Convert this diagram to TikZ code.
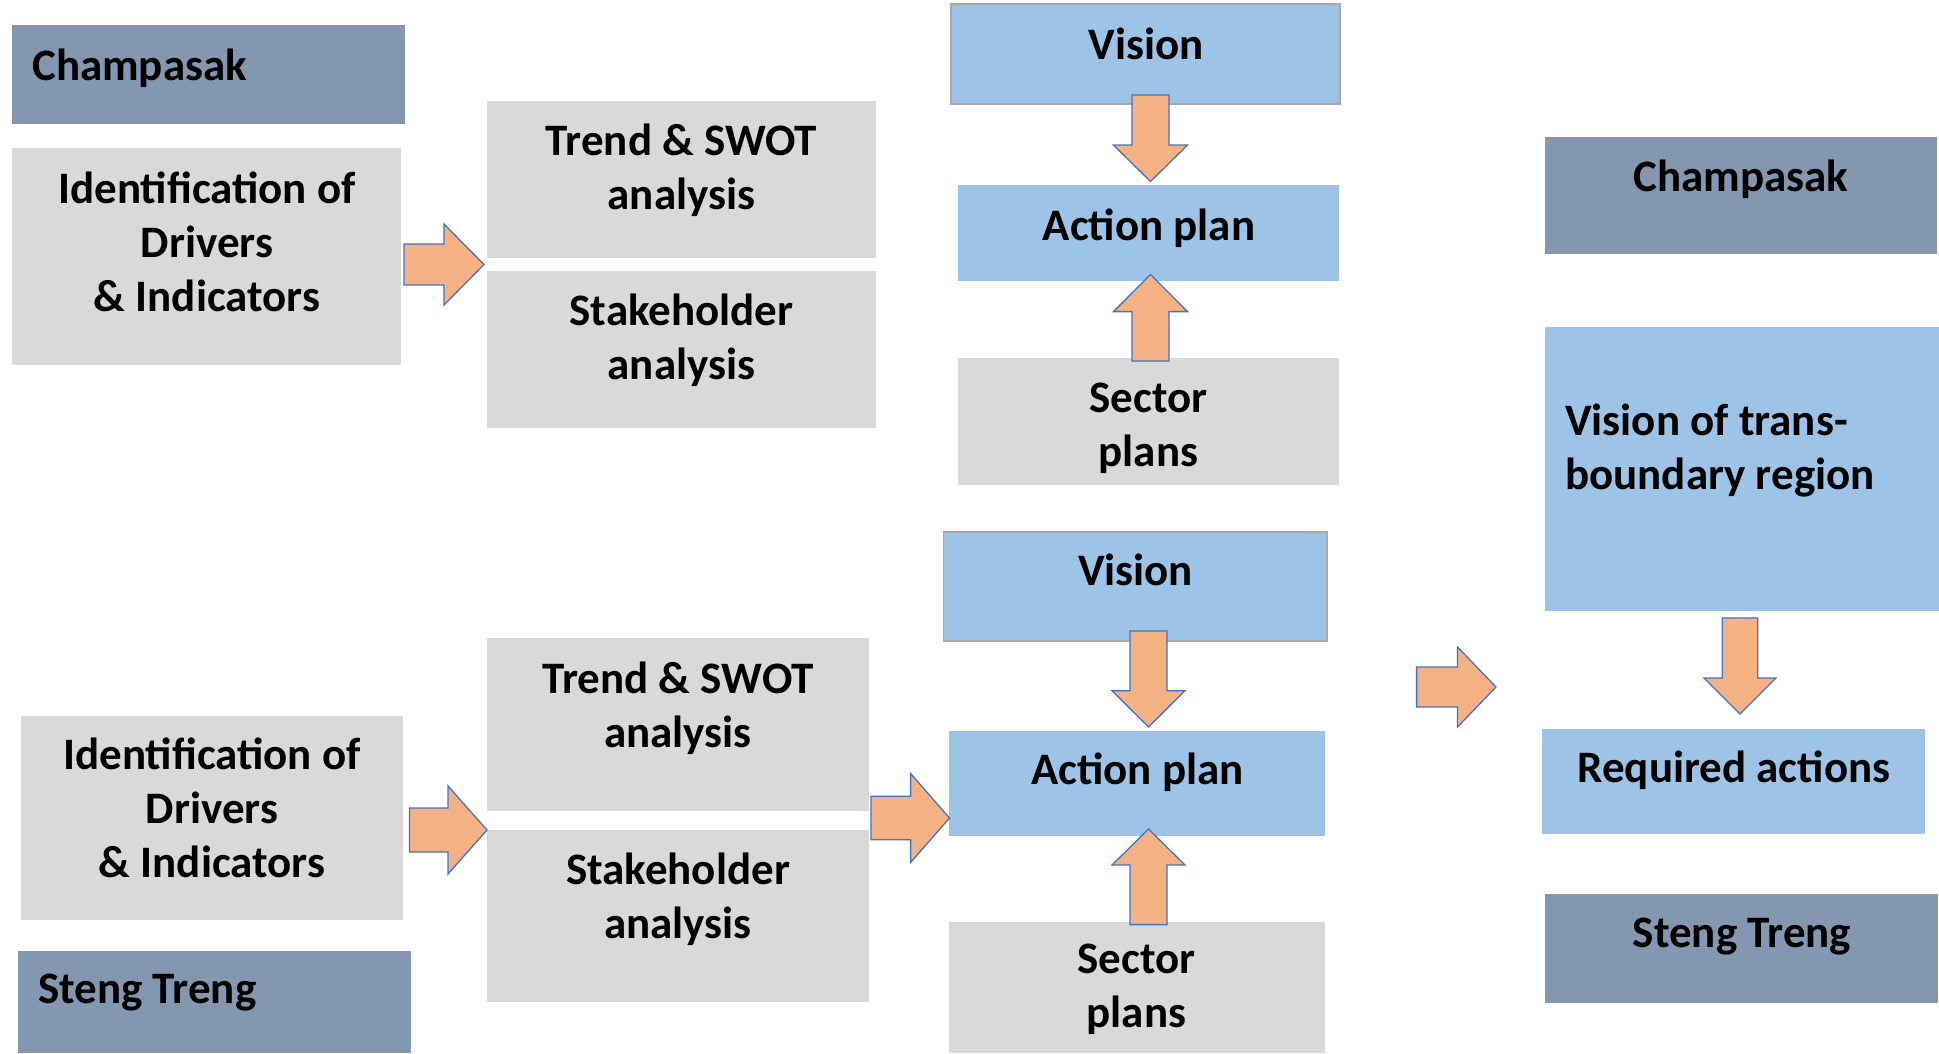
\documentclass[tikz,border=0pt]{standalone}
\usepackage{fontspec}
\setmainfont{Carlito}
\definecolor{slate}{HTML}{8497B0}
\definecolor{lgray}{HTML}{D9D9D9}
\definecolor{lblue}{HTML}{9DC3E6}
\definecolor{aorange}{HTML}{F4B183}
\definecolor{ablue}{HTML}{4472C4}
\definecolor{bgray}{HTML}{A9A9A9}
\newcommand{\boxat}[6]{% style, name, x1, y1, x2, y2
  \node[#1, anchor=north west, minimum width={(#5-#3)*1pt}, minimum height={(#6-#4)*1pt}] (#2) at (#3,#4) {};}
\newcommand{\rarr}[6]{% x1, xtip, xbase, yc, shaft half, head half
  \draw[barrow] (#1,#4-#5) -- (#3,#4-#5) -- (#3,#4-#6) -- (#2,#4) -- (#3,#4+#6) -- (#3,#4+#5) -- (#1,#4+#5) -- cycle;}
\newcommand{\varr}[6]{% xc, y1, ytip, ybase, shaft half, head half
  \draw[barrow] (#1-#5,#2) -- (#1-#5,#4) -- (#1-#6,#4) -- (#1,#3) -- (#1+#6,#4) -- (#1+#5,#4) -- (#1+#5,#2) -- cycle;}
\tikzset{
  dark/.style={fill=slate, inner sep=0pt, outer sep=0pt},
  grey/.style={fill=lgray, inner sep=0pt, outer sep=0pt},
  blue/.style={fill=lblue, inner sep=0pt, outer sep=0pt},
  bluebd/.style={fill=lblue, draw=bgray, line width=1.5pt, inner sep=0pt, outer sep=0pt},
  txt/.style={font=\fontsize{45}{54}\selectfont\bfseries, inner sep=0pt, align=center, text=black},
  barrow/.style={fill=aorange, draw=ablue, line width=1.3pt, line join=miter},
}
\begin{document}
\begin{tikzpicture}[x=1pt,y=-1pt]
\useasboundingbox (0,0) rectangle (1939,1053);
% boxes
\boxat{dark}{champL}{12}{25}{405}{124}
\boxat{grey}{idT}{12}{148}{401}{365}
\boxat{grey}{trendT}{487}{101}{876}{258}
\boxat{grey}{stakeT}{487}{271}{876}{428}
\boxat{bluebd}{visT}{951}{4}{1340}{104}
\boxat{blue}{actT}{958}{185}{1339}{280.5}
\boxat{grey}{secT}{958}{357.6}{1339}{484.7}
\boxat{dark}{champR}{1545}{137}{1937}{253.5}
\boxat{blue}{vtb}{1545}{327}{1939}{611}
\boxat{grey}{idB}{21}{716}{403}{919.5}
\boxat{dark}{stengL}{18}{951}{411}{1053}
\boxat{grey}{trendB}{487}{638}{869}{811}
\boxat{grey}{stakeB}{487}{830}{869}{1001.7}
\boxat{bluebd}{visB}{943.5}{532}{1327}{641}
\boxat{blue}{actB}{948.5}{731}{1324.5}{836}
\boxat{grey}{secB}{948.5}{921.5}{1324.5}{1053}
\boxat{blue}{reqA}{1541.6}{729}{1924.5}{834}
\boxat{dark}{stengR}{1545}{894}{1938}{1002.7}
% texts (base anchor = baseline of the last line)
\begin{scope}[yshift=-2pt]
\node[txt, anchor=base west] (tchampL) at (32,78) {Champasak};
\node[txt, anchor=base] (tidT) at (207,309) {Identification of\\Drivers\\\& Indicators};
\node[txt, anchor=base] (ttrendT) at (681.5,207) {Trend \& SWOT\\analysis};
\node[txt, anchor=base] (tstakeT) at (681.5,377) {Stakeholder\\analysis};
\node[txt, anchor=base] (tvisT) at (1146,57.5) {Vision};
\node[txt, anchor=base] (tactT) at (1149,238) {Action plan};
\node[txt, anchor=base] (tsecT) at (1148.5,464) {Sector\\plans};
\node[txt, anchor=base] (tchampR) at (1741,189) {Champasak};
\node[txt, anchor=base west, align=left] (tvtb) at (1565,487.7) {Vision of trans-\\boundary region};
\node[txt, anchor=base] (tidB) at (212,875.6) {Identification of\\Drivers\\\& Indicators};
\node[txt, anchor=base west] (tstengL) at (38,1001.6) {Steng Treng};
\node[txt, anchor=base] (ttrendB) at (678,745) {Trend \& SWOT\\analysis};
\node[txt, anchor=base] (tstakeB) at (678,936) {Stakeholder\\analysis};
\node[txt, anchor=base] (tvisB) at (1135.5,583.5) {Vision};
\node[txt, anchor=base] (tactB) at (1137.5,782) {Action plan};
\node[txt, anchor=base] (tsecB) at (1136.5,1025) {Sector\\plans};
\node[txt, anchor=base] (treqA) at (1734,780) {Required actions};
\node[txt, anchor=base] (tstengR) at (1742,945) {Steng Treng};
\end{scope}
% block arrows
\rarr{404}{484}{444}{264.5}{20.5}{40.5}
\varr{1150.5}{95}{181.5}{145}{18.5}{37}
\varr{1150.5}{361}{274.5}{311.6}{18.5}{37}
\rarr{409.5}{487}{448}{830}{22}{44}
\rarr{871}{949.5}{910.6}{818}{21.75}{44.5}
\varr{1148.5}{631}{727}{690.7}{18.5}{36.5}
\varr{1148.5}{924.6}{829}{865}{18.5}{36.5}
\rarr{1416.6}{1496}{1457.5}{687}{20}{40}
\varr{1740}{618}{714}{678}{17.75}{36}
\end{tikzpicture}
\end{document}
